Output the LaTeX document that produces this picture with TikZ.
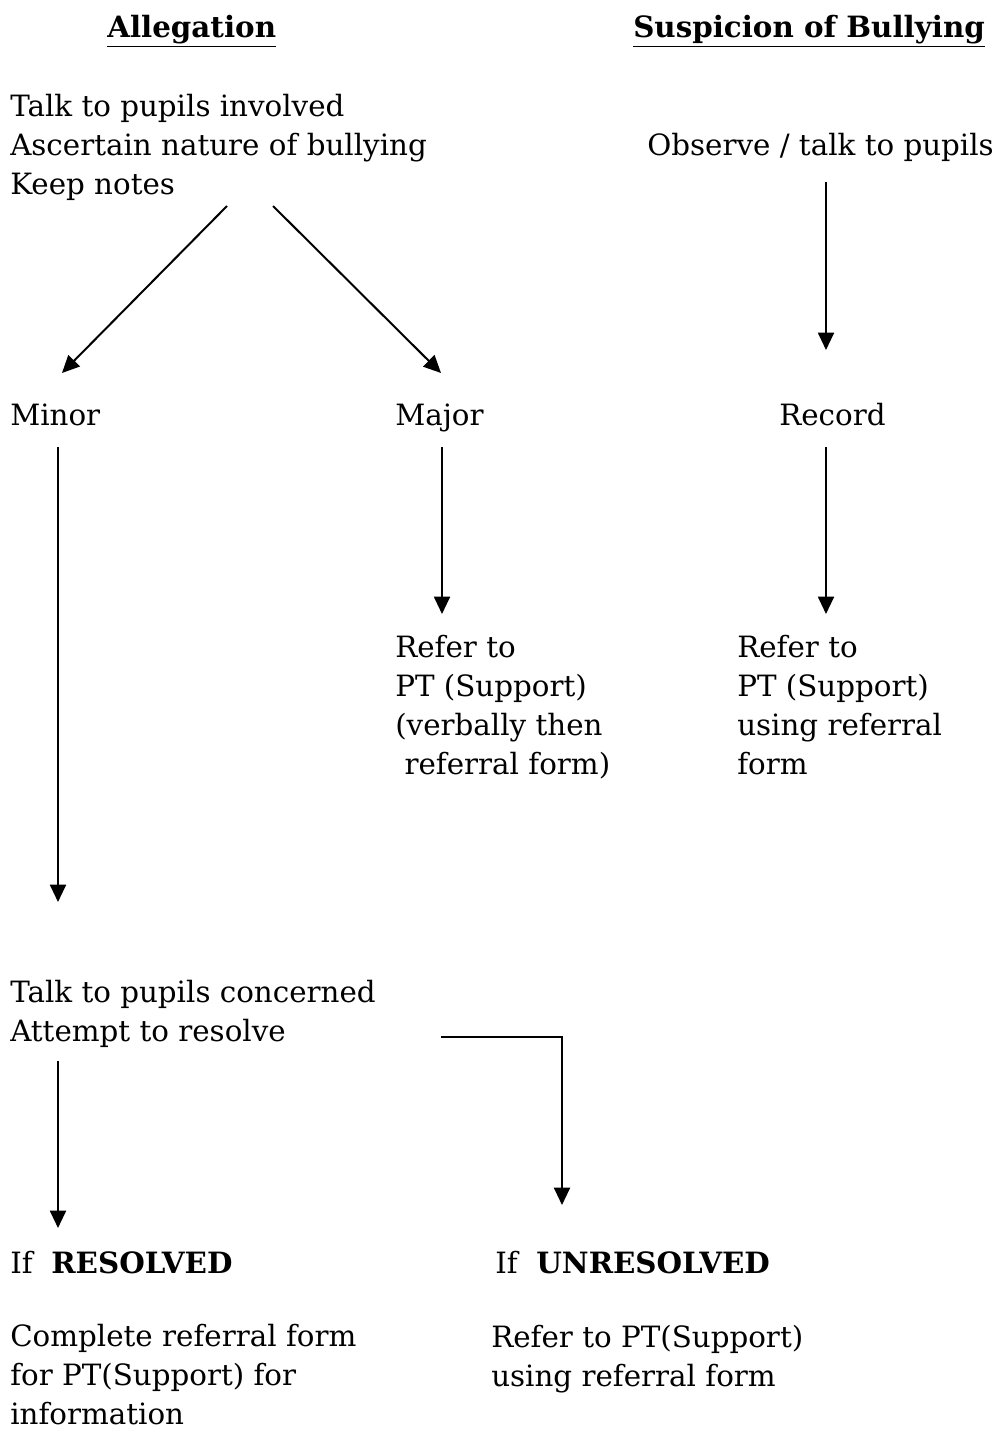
\documentclass[tikz,border=0pt]{standalone}
\usepackage{fontspec}
\setmainfont{DejaVu Serif}
\usetikzlibrary{arrows.meta,calc}
\tikzset{
  txt/.style={anchor=base west,inner sep=0pt,align=left,font=\fontsize{22}{29.25}\selectfont},
  head/.style={txt,font=\fontsize{22}{29.25}\selectfont\bfseries},
  arr/.style={-{Triangle[length=13pt,width=12pt]},line width=1.5pt}
}
\begin{document}
\begin{tikzpicture}[x=0.75pt,y=-0.75pt]
        \useasboundingbox (0,0) rectangle (996,1430);
        % headings
        \node[head] (allhead) at (107,38) {\underline{Allegation}};
        \node[head] (sushead) at (633,38) {\underline{Suspicion of Bullying}};
        % allegation column (multi-line nodes sit on their last line)
        \node[txt] (talk) at (10,195) {Talk to pupils involved\\Ascertain nature of bullying\\Keep notes};
        \node[txt] (minor) at (10,425) {Minor};
        \node[txt] (major) at (395,425) {Major};
        \node[txt] (refmaj) at (395,774) {Refer to\\PT (Support)\\(verbally then\\\ referral form)};
        \node[txt] (concern) at (10,1041) {Talk to pupils concerned\\Attempt to resolve};
        \node[txt] (resolved) at (10,1273) {If\ \ \textbf{RESOLVED}};
        \node[txt] (unres) at (495,1273) {If\ \ \textbf{UNRESOLVED}};
        \node[txt] (complete) at (10,1424) {Complete referral form\\for PT(Support) for\\information};
        \node[txt] (referpt) at (491,1386) {Refer to PT(Support)\\using referral form};
        % suspicion column
        \node[txt] (observe) at (647,156) {Observe / talk to pupils};
        \node[txt] (record) at (779,425) {Record};
        \node[txt] (refrec) at (737,774) {Refer to\\PT (Support)\\using referral\\form};
        % connectors
        \draw[arr] ($(talk.base west)+(217,11)$) -- ($(minor.base west)+(52,-52)$);
        \draw[arr] ($(talk.base west)+(263,11)$) -- ($(major.base west)+(46,-52)$);
        \draw[arr] ($(observe.base west)+(179,26)$) -- ($(record.base west)+(47,-75)$);
        \draw[arr] ($(minor.base west)+(48,22)$) -- ($(concern.base west)+(48,-139)$);
        \draw[arr] ($(major.base west)+(47,22)$) -- ($(refmaj.base west)+(47,-160)$);
        \draw[arr] ($(record.base west)+(47,22)$) -- ($(refrec.base west)+(89,-160)$);
        \draw[arr] ($(concern.base west)+(48,20)$) -- ($(resolved.base west)+(48,-45)$);
        \draw[arr] ($(concern.base west)+(431,-4)$) -| ($(unres.base west)+(67,-68)$);
\end{tikzpicture}
\end{document}
